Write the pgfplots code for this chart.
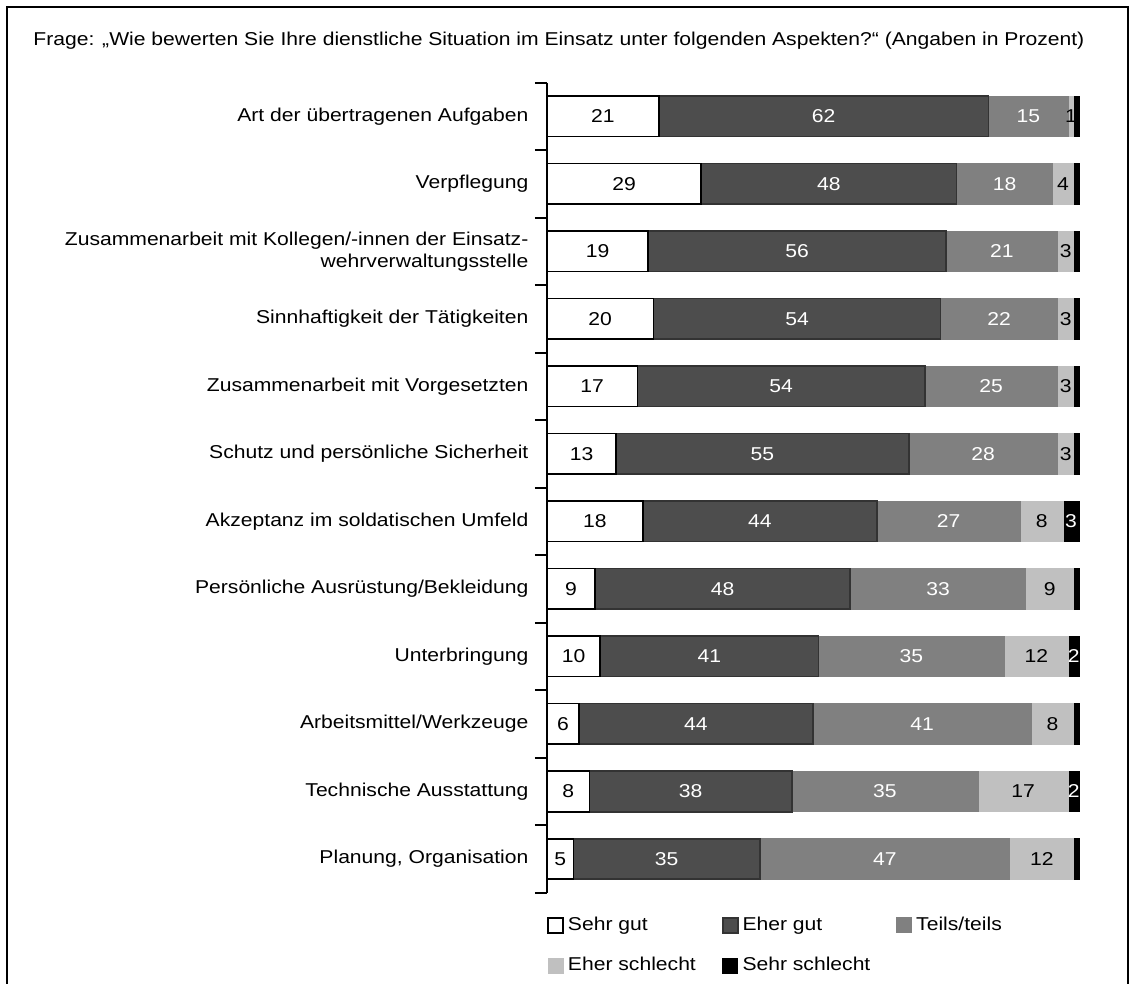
\documentclass[border=0pt]{standalone}
\usepackage{fontspec}
\setmainfont[FakeStretch=1.135]{Liberation Sans}
\usepackage{pgfplots}
\usepackage{pgfplotstable}
\pgfplotsset{compat=1.18}

\definecolor{egut}{HTML}{4D4D4D}
\definecolor{egutline}{HTML}{333333}
\definecolor{teils}{HTML}{808080}
\definecolor{eschl}{HTML}{C0C0C0}

% pos: row from top; sg..ss: shares in percent; esl/ssl: printed labels
\pgfplotstableread{
pos sg eg tt es ss esl ssl
0  21 62 15 1  1 1  {}
1  29 48 18 4  1 4  {}
2  19 56 21 3  1 3  {}
3  20 54 22 3  1 3  {}
4  17 54 25 3  1 3  {}
5  13 55 28 3  1 3  {}
6  18 44 27 8  3 8  3
7  9  48 33 9  1 9  {}
8  10 41 35 12 2 12 2
9  6  44 41 8  1 8  {}
10 8  38 35 17 2 17 2
11 5  35 47 12 1 12 {}
}\ratings

\pgfplotsset{
  sq/.style={legend image code/.code={%
      \draw[##1] (0pt,-3.75pt) rectangle (7.5pt,3.75pt);}},
}

\begin{document}
\fontsize{9.3pt}{11pt}\selectfont
\begin{tikzpicture}
\useasboundingbox (0pt,0pt) rectangle (565.5pt,492pt);
\draw[line width=1pt] (3.5pt,0pt) -- (3.5pt,488.5pt) -- (564pt,488.5pt) -- (564pt,0pt);
\node[anchor=base west, inner sep=0pt] at (16.5pt,469pt)
  {Frage: „Wie bewerten Sie Ihre dienstliche Situation im Einsatz unter folgenden Aspekten?“ (Angaben in Prozent)};
\begin{axis}[
  at={(273.5pt,45.65pt)}, anchor=south west,
  scale only axis, width=266pt, height=405pt,
  xbar stacked, bar width=20.25pt,
  xmin=0, xmax=100, ymin=-0.5, ymax=11.5,
  enlargelimits=false, clip=false,
  y dir=reverse,
  axis x line=none, axis y line*=left,
  axis line style={line width=1pt},
  ytick={0,...,11},
  yticklabels={
    Art der übertragenen Aufgaben,
    Verpflegung,
    {Zusammenarbeit mit Kollegen/-innen der Einsatz-\\wehrverwaltungsstelle},
    Sinnhaftigkeit der Tätigkeiten,
    Zusammenarbeit mit Vorgesetzten,
    Schutz und persönliche Sicherheit,
    Akzeptanz im soldatischen Umfeld,
    Persönliche Ausrüstung/Bekleidung,
    Unterbringung,
    Arbeitsmittel/Werkzeuge,
    Technische Ausstattung,
    {Planung, Organisation}},
  yticklabel style={align=right, xshift=-6pt},
  major tick length=0pt,
  minor ytick={-0.5,0.5,...,11.5},
  minor tick length=6pt, tick align=outside,
  minor tick style={black, line width=1pt},
  point meta=explicit symbolic,
  nodes near coords,
  legend columns=3,
  legend cell align=left,
  legend style={draw=none, at={(0,0)}, anchor=north west, yshift=-10pt,
    inner sep=0pt, row sep=8pt,
    /tikz/every even column/.append style={column sep=11pt}},
]
\addplot[sq, fill=white, draw=black, line width=0.8pt,
  every node near coord/.append style={text=black}]
  table[x=sg, y=pos, meta=sg] {\ratings};
\addlegendentry{Sehr gut}
\addplot[sq, fill=egut, draw=egutline, line width=0.8pt,
  every node near coord/.append style={text=white}]
  table[x=eg, y=pos, meta=eg] {\ratings};
\addlegendentry{Eher gut}
\addplot[sq, fill=teils, draw=teils, line width=0.4pt,
  every node near coord/.append style={text=white}]
  table[x=tt, y=pos, meta=tt] {\ratings};
\addlegendentry{Teils/teils}
\addplot[sq, fill=eschl, draw=eschl, line width=0.4pt,
  every node near coord/.append style={text=black}]
  table[x=es, y=pos, meta=esl] {\ratings};
\addlegendentry{Eher schlecht}
\addplot[sq, fill=black, draw=black, line width=0.4pt,
  every node near coord/.append style={text=white}]
  table[x=ss, y=pos, meta=ssl] {\ratings};
\addlegendentry{Sehr schlecht}
\end{axis}
\end{tikzpicture}
\end{document}
